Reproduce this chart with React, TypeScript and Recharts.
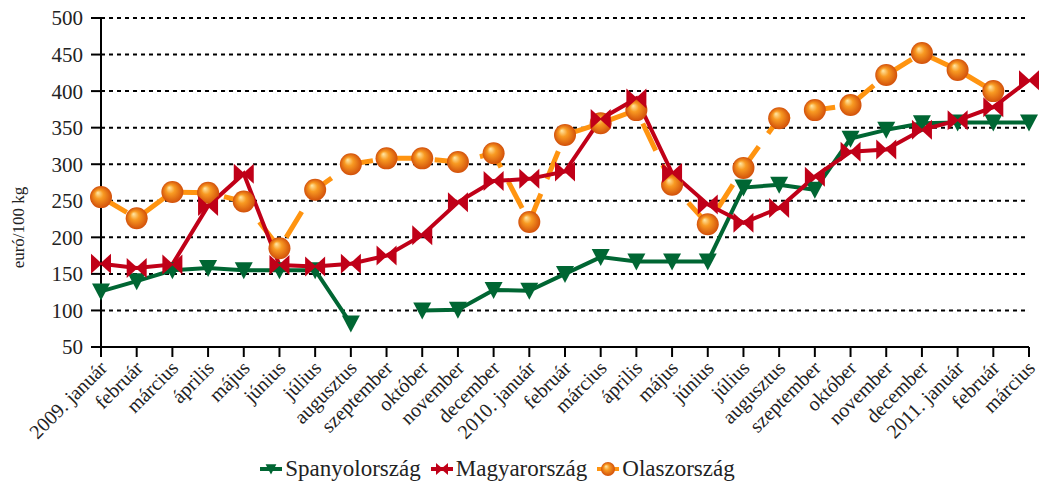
import React from "react";
import {
  LineChart,
  Line,
  XAxis,
  YAxis,
  CartesianGrid,
  Legend,
} from "recharts";

const months = [
  "2009. január", "február", "március", "április", "május", "június",
  "július", "augusztus", "szeptember", "október", "november", "december",
  "2010. január", "február", "március", "április", "május", "június",
  "július", "augusztus", "szeptember", "október", "november", "december",
  "2011. január", "február", "március",
];

const spanyol = [
  126, 140, 155, 158, 155, 155, 155, 82, null, 100, 101, 128,
  127, 150, 173, 167, 167, 167, 268, 272, 265, 335, 347, 356,
  357, 357, 357,
];

const magyar = [
  164, 158, 163, 243, 287, 162, 160, 164, 175, 203, 248, 277,
  280, 290, 362, 390, 288, 245, 220, 240, 283, 317, 320, 347,
  360, 378, 415,
];

const olasz = [
  255, 226, 262, 261, 249, 185, 265, 300, 308, 308, 303, 315,
  221, 340, 356, 374, 272, 218, 295, 363, 374, 381, 422, 452,
  429, 400, null,
];

const yTicks = [50, 100, 150, 200, 250, 300, 350, 400, 450, 500];

const GREEN = "#006633";
const RED = "#c00018";
const ORANGE = "#ff9410";
const FONT = "Liberation Serif, DejaVu Serif, serif";

const data = months.map((m, i) => ({
  month: m,
  spanyol: spanyol[i],
  magyar: magyar[i],
  olasz: olasz[i],
}));

function Triangle({ cx, cy, s = 1 }: { cx: number; cy: number; s?: number }) {
  return (
    <polygon
      points={`${cx - 9 * s},${cy - 8 * s} ${cx + 9 * s},${cy - 8 * s} ${cx},${cy + 9 * s}`}
      fill={GREEN}
    />
  );
}

function Bowtie({ cx, cy, s = 1 }: { cx: number; cy: number; s?: number }) {
  const w = 10 * s;
  return (
    <g fill={RED}>
      <polygon points={`${cx - w},${cy - w} ${cx - w},${cy + w} ${cx + 1},${cy}`} />
      <polygon points={`${cx + w},${cy - w} ${cx + w},${cy + w} ${cx - 1},${cy}`} />
    </g>
  );
}

function Ball({ cx, cy, r = 11 }: { cx: number; cy: number; r?: number }) {
  return <circle cx={cx} cy={cy} r={r} fill="url(#ballGrad)" />;
}

const dotOf = (kind: string) => (props: any) => {
  const { cx, cy, index, value } = props;
  if (value == null || cx == null || cy == null) return <g key={kind + index} />;
  if (kind === "s") return <Triangle key={kind + index} cx={cx} cy={cy} />;
  if (kind === "m") return <Bowtie key={kind + index} cx={cx} cy={cy} />;
  return <Ball key={kind + index} cx={cx} cy={cy} />;
};

const XTick = (props: any) => {
  const { x, y, payload } = props;
  return (
    <g transform={`translate(${x + 3},${y + 6})`}>
      <text
        transform="rotate(-45)"
        textAnchor="end"
        style={{ fontFamily: FONT, fontSize: 20 }}
        fill="#222"
        dy={6}
      >
        {payload.value}
      </text>
    </g>
  );
};

// y axis title sits a bit below the middle of the plot, like the original
const YTitle = (props: any) => {
  const { viewBox } = props;
  const x = viewBox.x + 18;
  const y = viewBox.y + viewBox.height / 2 + 45;
  return (
    <text
      x={x}
      y={y}
      transform={`rotate(-90, ${x}, ${y})`}
      textAnchor="middle"
      dominantBaseline="central"
      style={{ fontFamily: FONT, fontSize: 17 }}
      fill="#222"
    >
      euró/100 kg
    </text>
  );
};

const LegendContent = () => {
  const items = [
    { label: "Spanyolország", color: GREEN, icon: "s" },
    { label: "Magyarország", color: RED, icon: "m" },
    { label: "Olaszország", color: ORANGE, icon: "o" },
  ];
  return (
    <div style={{ display: "flex", justifyContent: "center", alignItems: "center", gap: 10, fontFamily: FONT, fontSize: 23, lineHeight: "26px", color: "#222", paddingTop: 9, paddingRight: 34 }}>
      {items.map((it) => (
        <div key={it.label} style={{ display: "flex", alignItems: "center" }}>
          <svg width={22} height={20}>
            <defs>
              <radialGradient id={"lg" + it.icon} cx="0.5" cy="0.5" r="0.5" fx="0.35" fy="0.3">
                <stop offset="0%" stopColor="#ffe9a8" />
                <stop offset="40%" stopColor="#f89a22" />
                <stop offset="100%" stopColor="#d2500a" />
              </radialGradient>
            </defs>
            <line x1={0} y1={10} x2={22} y2={10} stroke={it.color} strokeWidth={4} />
            {it.icon === "s" && <Triangle cx={11} cy={10} s={0.6} />}
            {it.icon === "m" && <Bowtie cx={11} cy={10} s={0.6} />}
            {it.icon === "o" && <circle cx={11} cy={10} r={7} fill="url(#lgo)" />}
          </svg>
          <span style={{ marginLeft: 3 }}>{it.label}</span>
        </div>
      ))}
    </div>
  );
};

export default function App() {
  return (
    <div style={{ position: "absolute", left: 0, top: 0, width: 1040, height: 486, background: "#fff", fontFamily: FONT, overflow: "hidden" }}>
      <LineChart
        width={1040}
        height={486}
        data={data}
        margin={{ top: 18, right: 11, left: 0, bottom: 0 }}
      >
        <defs>
          <radialGradient id="ballGrad" cx="0.5" cy="0.5" r="0.5" fx="0.35" fy="0.3">
            <stop offset="0%" stopColor="#ffe9a8" />
            <stop offset="40%" stopColor="#f89a22" />
            <stop offset="100%" stopColor="#d2500a" />
          </radialGradient>
        </defs>
        <CartesianGrid
          vertical={false}
          stroke="#000"
          strokeWidth={2}
          strokeDasharray="4 4"
        />
        <XAxis
          dataKey="month"
          interval={0}
          height={100}
          tick={<XTick />}
          axisLine={{ stroke: "#000", strokeWidth: 2 }}
          tickLine={{ stroke: "#000", strokeWidth: 2 }}
          tickSize={10}
        />
        <YAxis
          width={101}
          domain={[50, 500]}
          ticks={yTicks}
          interval={0}
          axisLine={{ stroke: "#000", strokeWidth: 2 }}
          tickLine={{ stroke: "#000", strokeWidth: 2 }}
          tickSize={10}
          tick={{ fontFamily: FONT, fontSize: 21, fill: "#222", dx: -6 }}
          label={<YTitle />}
        />
        <Legend verticalAlign="bottom" height={39} content={<LegendContent />} />
        <Line
          dataKey="olasz"
          stroke={ORANGE}
          strokeWidth={5}
          strokeDasharray="30 16"
          dot={dotOf("o")}
          isAnimationActive={false}
          connectNulls={false}
        />
        <Line
          dataKey="spanyol"
          stroke={GREEN}
          strokeWidth={4}
          dot={dotOf("s")}
          isAnimationActive={false}
          connectNulls={false}
        />
        <Line
          dataKey="magyar"
          stroke={RED}
          strokeWidth={4}
          dot={dotOf("m")}
          isAnimationActive={false}
          connectNulls={false}
        />
      </LineChart>
    </div>
  );
}
